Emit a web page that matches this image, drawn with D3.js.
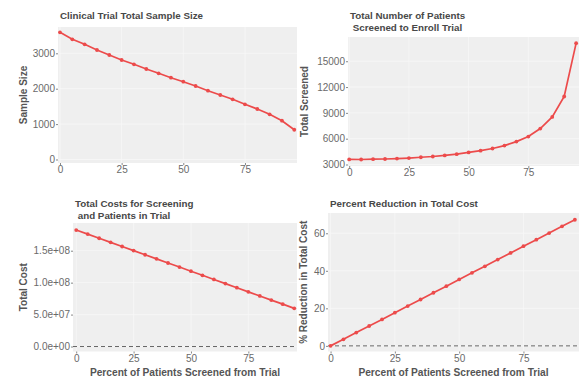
<!DOCTYPE html>
<html>
<head>
<meta charset="utf-8">
<script src="https://cdn.jsdelivr.net/npm/d3@7"></script>
<style>
  body { margin: 0; background: #fff; }
  svg text { font-family: "Liberation Sans", Arial, sans-serif; }
</style>
</head>
<body>
<div class="graph"></div>
<script>
// percent of patients screened out of the trial
var pctScreened = [0, 5, 10, 15, 20, 25, 30, 35, 40, 45, 50, 55, 60, 65, 70, 75, 80, 85, 90, 95];

var sampleSize = [3593, 3395, 3254, 3093, 2952, 2811, 2689, 2556, 2435, 2311,
                  2198, 2076, 1944, 1822, 1700, 1559, 1427, 1277, 1096, 840];

var totalScreened = [3590, 3580, 3615, 3640, 3690, 3750, 3840, 3930, 4060, 4200,
                     4400, 4610, 4860, 5200, 5660, 6250, 7180, 8530, 10900, 17100];

var totalCost = [1.824e8, 1.760e8, 1.695e8, 1.631e8, 1.566e8, 1.502e8, 1.437e8, 1.373e8, 1.308e8, 1.244e8,
                 1.179e8, 1.115e8, 1.050e8, 0.985e8, 0.921e8, 0.856e8, 0.792e8, 0.727e8, 0.663e8, 0.598e8];

var pctReduction = [0, 3.5, 7.1, 10.6, 14.1, 17.7, 21.2, 24.7, 28.3, 31.8,
                    35.4, 38.9, 42.4, 46.0, 49.5, 53.1, 56.6, 60.1, 63.7, 67.2];

var xTicks = [0, 25, 50, 75];
var sampleTicks = [0, 1000, 2000, 3000];
var screenedTicks = [3000, 6000, 9000, 12000, 15000];
var costTicks = [0, 5e7, 1e8, 1.5e8];
var reductionTicks = [0, 20, 40, 60];

var xTitle = "Percent of Patients Screened from Trial";

var W = 579, H = 382;
var lineColor = "#ec4b4b";

var svg = d3.select(".graph").append("svg")
    .attr("width", W)
    .attr("height", H);

function sci(v){
    if(v === 0) return "0.0e+00";
    var e = Math.floor(Math.log10(v));
    var m = v / Math.pow(10, e);
    return m.toFixed(1) + "e+" + (e < 10 ? "0" + e : e);
}

function panel(p){
    var x = d3.scaleLinear().domain(p.xdom).range([p.left, p.right]);
    var y = d3.scaleLinear().domain(p.ydom).range([p.bottom, p.top]);
    var g = svg.append("g");

    //background
    g.append("rect")
        .attr("x", p.left).attr("y", p.top)
        .attr("width", p.right - p.left).attr("height", p.bottom - p.top)
        .attr("fill", "#efefef");

    //grid
    g.selectAll(".gy").data(p.yticks).enter().append("line")
        .attr("x1", p.left).attr("x2", p.right)
        .attr("y1", function(d){ return y(d); }).attr("y2", function(d){ return y(d); })
        .attr("stroke", "#f8f8f8").attr("stroke-width", 0.8);
    g.selectAll(".gx").data(xTicks).enter().append("line")
        .attr("y1", p.top).attr("y2", p.bottom)
        .attr("x1", function(d){ return x(d); }).attr("x2", function(d){ return x(d); })
        .attr("stroke", "#f8f8f8").attr("stroke-width", 0.8);

    //axes
    var ax = g.append("g")
        .attr("transform", "translate(0," + p.bottom + ")")
        .call(d3.axisBottom(x).tickValues(xTicks).tickSize(2).tickPadding(1));
    var ay = g.append("g")
        .attr("transform", "translate(" + p.left + ",0)")
        .call(d3.axisLeft(y).tickValues(p.yticks).tickSize(2).tickPadding(1).tickFormat(p.fmt || d3.format("d")));
    [ax, ay].forEach(function(a){
        a.select(".domain").remove();
        a.selectAll("line").attr("stroke", "#888");
        a.selectAll("text").attr("fill", "#6a6a6a").attr("font-size", 10).attr("font-family", null);
    });

    //zero reference line
    if(p.hline){
        g.append("line")
            .attr("x1", p.left).attr("x2", p.right)
            .attr("y1", y(0)).attr("y2", y(0))
            .attr("stroke", "#666").attr("stroke-width", 1)
            .attr("stroke-dasharray", "4,3");
    }

    //series
    var pts = pctScreened.map(function(d, i){ return {x: d, y: p.values[i]}; });
    var line = d3.line()
        .x(function(d){ return x(d.x); })
        .y(function(d){ return y(d.y); });
    g.append("path")
        .datum(pts)
        .attr("d", line)
        .attr("fill", "none")
        .attr("stroke", lineColor)
        .attr("stroke-width", 1.7);
    g.selectAll(".pt").data(pts).enter().append("circle")
        .attr("cx", function(d){ return x(d.x); })
        .attr("cy", function(d){ return y(d.y); })
        .attr("r", 1.9)
        .attr("fill", lineColor);

    //titles
    var t = g.append("text")
        .attr("x", p.left + 2).attr("y", p.titleY)
        .attr("font-size", 9.8).attr("font-weight", "bold")
        .attr("fill", "#484848")
        .attr("xml:space", "preserve");
    p.title.forEach(function(s, i){
        t.append("tspan").attr("x", p.left + 2).attr("dy", i === 0 ? 0 : 11.5).text(s);
    });

    g.append("text")
        .attr("transform", "translate(" + p.ylabX + "," + ((p.top + p.bottom) / 2) + ") rotate(-90)")
        .attr("text-anchor", "middle")
        .attr("font-size", 10).attr("font-weight", "bold")
        .attr("fill", "#555")
        .text(p.ylab);

    if(p.xlab){
        g.append("text")
            .attr("x", (p.left + p.right) / 2).attr("y", 376)
            .attr("text-anchor", "middle")
            .attr("font-size", 10.2).attr("font-weight", "bold")
            .attr("fill", "#555")
            .text(p.xlab);
    }
}

panel({
    left: 58, right: 297, top: 27, bottom: 163,
    xdom: [-0.8, 96.1], ydom: [-99, 3743],
    values: sampleSize, yticks: sampleTicks,
    title: ["Clinical Trial Total Sample Size"], titleY: 19,
    ylab: "Sample Size", ylabX: 27
});

panel({
    left: 348, right: 579, top: 37, bottom: 166,
    xdom: [-0.5, 96.2], ydom: [2826, 17817],
    values: totalScreened, yticks: screenedTicks,
    title: ["Total Number of Patients", " Screened to Enroll Trial"], titleY: 19,
    ylab: "Total Screened", ylabX: 308
});

panel({
    left: 73, right: 297, top: 223, bottom: 351.5,
    xdom: [-1.4, 96.2], ydom: [-7.8e6, 1.934e8],
    values: totalCost, yticks: costTicks, fmt: sci, hline: true,
    title: ["Total Costs for Screening", " and Patients in Trial"], titleY: 207,
    ylab: "Total Cost", ylabX: 27, xlab: xTitle
});

panel({
    left: 328, right: 579, top: 213, bottom: 351.5,
    xdom: [-1.0, 96.6], ydom: [-3.0, 70.8],
    values: pctReduction, yticks: reductionTicks, hline: true,
    title: ["Percent Reduction in Total Cost"], titleY: 207,
    ylab: "% Reduction in Total Cost", ylabX: 307, xlab: xTitle
});
</script>
</body>
</html>
